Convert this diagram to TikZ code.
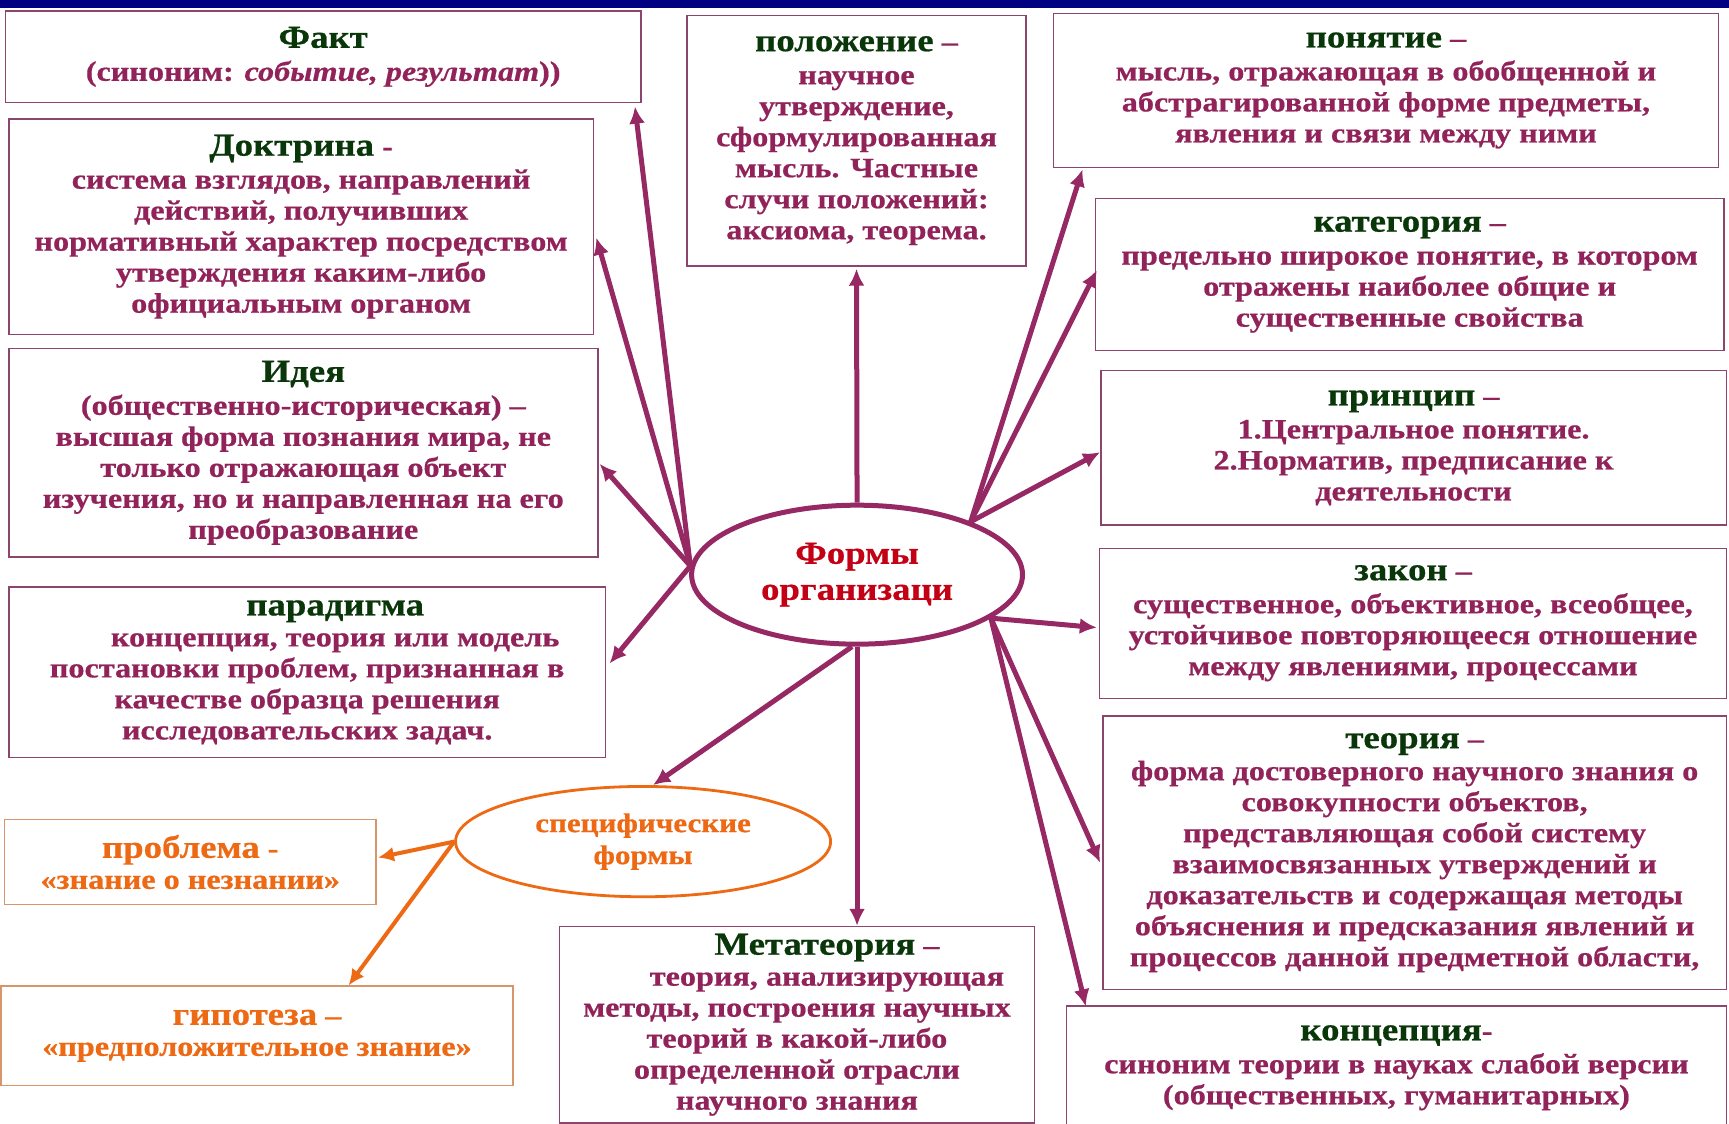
\documentclass[tikz,border=0pt]{standalone}
\usepackage{fontspec}
\setmainfont{Liberation Serif}[FakeStretch=1.15,BoldFeatures={FakeBold=0.6},BoldItalicFeatures={FakeBold=0.6}]
\usetikzlibrary{arrows.meta,calc,shapes.geometric}
\definecolor{bodyc}{RGB}{145,35,90}
\definecolor{ttlc}{RGB}{10,55,10}
\definecolor{framec}{RGB}{140,70,110}
\definecolor{arrc}{RGB}{150,40,100}
\definecolor{redc}{RGB}{195,0,20}
\definecolor{orc}{RGB}{238,105,20}
\definecolor{orframe}{RGB}{215,150,105}
\definecolor{navyc}{RGB}{0,0,130}
\newcommand{\ttl}[1]{{\fontsize{32}{33}\selectfont\color{ttlc}#1}}
\newcommand{\ottl}[1]{{\fontsize{32}{33}\selectfont#1}}
\def\s{1.103}
\begin{document}
\begin{tikzpicture}[x=1.103pt,y=-1.103pt,
  box/.style={draw=framec,line width=1.4pt,fill=white,inner sep=0pt,align=center,
    text=bodyc,font=\bfseries\fontsize{28}{31}\selectfont},
  obox/.style={box,draw=orframe,text=orc},
  arr/.style={draw=arrc,line width=5pt,-{Latex[length=17pt,width=16pt]}},
  oarr/.style={draw=orc,line width=4pt,-{Latex[length=16pt,width=15pt]}},
  cell/.style={ellipse,draw=arrc,line width=5pt,fill=white,inner sep=0pt,align=center,
    text=redc,font=\bfseries\fontsize{32}{36}\selectfont},
  oell/.style={ellipse,draw=orc,line width=2.8pt,fill=white,inner sep=0pt,align=center,
    text=orc,font=\bfseries\fontsize{27}{32}\selectfont}]
\useasboundingbox (0,0) rectangle (1567.5,1019);
\clip (0,0) rectangle (1567.5,1019);
\fill[white] (0,0) rectangle (1567.5,1019);
\fill[navyc] (0,0) rectangle (1567.5,7);

\node[box,minimum width=\s*576pt,minimum height=\s*83pt] (fact) at (293,51.5)
  {\ttl{Факт}\\[2pt](синоним: {\itshape событие, результат}))};
\node[box,minimum width=\s*530pt,minimum height=\s*195pt] (dokt) at (273,205.5)
  {\ttl{Доктрина} -\\[2pt]система взглядов, направлений\\действий, получивших\\нормативный характер посредством\\утверждения каким-либо\\официальным органом};
\node[box,minimum width=\s*534pt,minimum height=\s*189pt] (idea) at (275,410.5)
  {\ttl{Идея}\\[2pt](общественно-историческая) –\\высшая форма познания мира, не\\только отражающая объект\\изучения, но и направленная на его\\преобразование};
\node[box,minimum width=\s*541pt,minimum height=\s*155pt] (parad) at (278.5,609.5)
  {\hspace*{56pt}\ttl{парадигма}\\\hspace*{56pt}концепция, теория или модель\\постановки проблем, признанная в\\качестве образца решения\\исследовательских задач.};
\node[box,minimum width=\s*307pt,minimum height=\s*227pt] (pol) at (776.5,127.5)
  {\ttl{положение} –\\[2pt]научное\\утверждение,\\сформулированная\\мысль. Частные\\случи положений:\\аксиома, теорема.};
\node[box,minimum width=\s*603pt,minimum height=\s*140pt] (pon) at (1256.5,82)
  {\ttl{понятие} –\\[2pt]мысль, отражающая в обобщенной и\\абстрагированной форме предметы,\\явления и связи между ними};
\node[box,minimum width=\s*570pt,minimum height=\s*138pt] (kat) at (1278,249)
  {\ttl{категория} –\\[2pt]предельно широкое понятие, в котором\\отражены наиболее общие и\\существенные свойства};
\node[box,minimum width=\s*567pt,minimum height=\s*140pt] (princ) at (1281.5,406)
  {\ttl{принцип} –\\[2pt]1.Центральное понятие.\\2.Норматив, предписание к\\деятельности};
\node[box,minimum width=\s*568pt,minimum height=\s*136pt] (zakon) at (1281,565)
  {\ttl{закон} –\\[2pt]существенное, объективное, всеобщее,\\устойчивое повторяющееся отношение\\между явлениями, процессами};
\node[box,minimum width=\s*565pt,minimum height=\s*248pt] (teor) at (1282.5,773)
  {\ttl{теория} –\\[1pt]форма достоверного научного знания о\\совокупности объектов,\\представляющая собой систему\\взаимосвязанных утверждений и\\доказательств и содержащая методы\\объяснения и предсказания явлений и\\процессов данной предметной области,};
\node[box,minimum width=\s*598pt,minimum height=\s*112pt] (konc) at (1266,968)
  {\ttl{концепция}-\\[2pt]синоним теории в науках слабой версии\\(общественных, гуманитарных)};
\node[box,minimum width=\s*431pt,minimum height=\s*178pt] (meta) at (722.5,929)
  {\hspace*{60pt}\ttl{Метатеория} –\\\hspace*{60pt}теория, анализирующая\\методы, построения научных\\теорий в какой-либо\\определенной отрасли\\научного знания};
\node[obox,minimum width=\s*337pt,minimum height=\s*77pt] (probl) at (172.5,781.5)
  {\ottl{проблема} -\\«знание о незнании»};
\node[obox,minimum width=\s*464pt,minimum height=\s*90pt] (gip) at (233,939)
  {\ottl{гипотеза} –\\«предположительное знание»};

\node[cell,minimum width=\s*300pt,minimum height=\s*126pt] (c) at (777,521) {Формы\\организаци};
\node[oell,minimum width=\s*340pt,minimum height=\s*100pt] (spec) at (583,763) {специфические\\формы};

\draw[arr] (c.177) -- ($(fact.south east)+(-6,3)$);
\draw[arr] (c.177) -- ($(dokt.east)+(2,10)$);
\draw[arr] (c.177) -- ($(idea.east)+(1,10)$);
\draw[arr] (c.177) -- ($(parad.east)+(3,-8)$);
\draw[arr] (c.north) -- ($(pol.south)+(0,2)$);
\draw[arr] (c.25) -- ($(pon.south west)+(27,1)$);
\draw[arr] (c.25) -- ($(kat.west)+(2,-4)$);
\draw[arr] (c.25) -- ($(princ.west)+(0,4)$);
\draw[arr] (c.-18) -- ($(zakon.west)+(-2,4)$);
\draw[arr] (c.-18) -- ($(teor.west)+(-2,9)$);
\draw[arr] (c.-18) -- ($(konc.north west)+(18,1)$);
\draw[arr] (c.south) -- (c.south |- meta.north);
\draw[arr] (c.266) -- (spec.80);
\draw[oarr] (spec.west) -- ($(probl.east)+(1,-4)$);
\draw[oarr] (spec.west) -- ($(gip.north)+(83,0)$);
\end{tikzpicture}
\end{document}
